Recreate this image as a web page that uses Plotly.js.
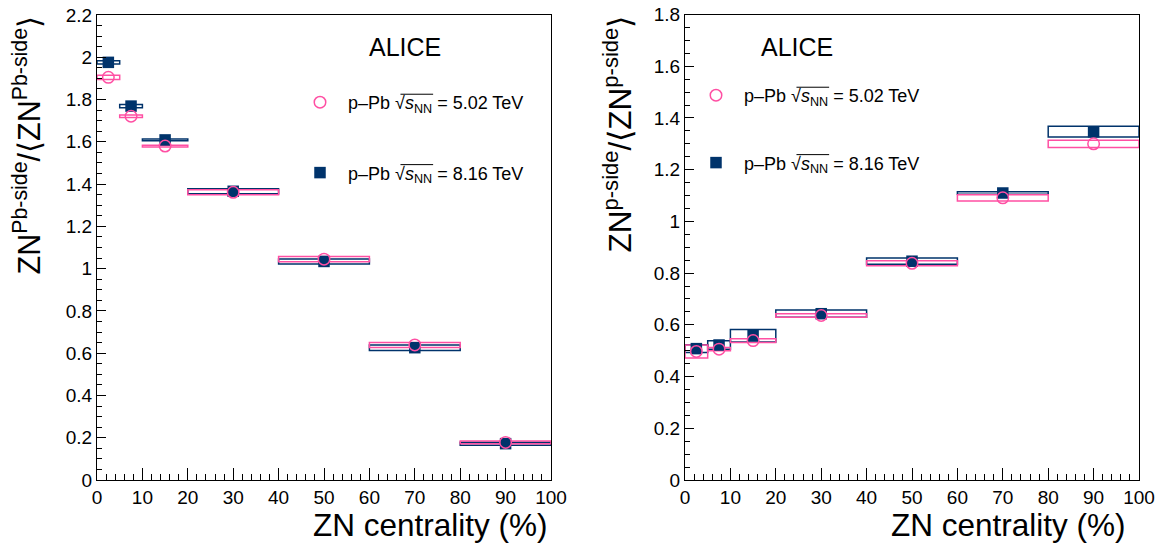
<!DOCTYPE html>
<html>
<head>
<meta charset="utf-8">
<script src="https://cdn.plot.ly/plotly-3.0.1.min.js"></script>
<style>html,body{margin:0;padding:0;background:#fff;}#chart{width:1171px;height:551px;}</style>
</head>
<body>
<div id="chart"></div>
<script>
// ---- data ----
const binLow  = [0, 5, 10, 20, 40, 60, 80];
const binHigh = [5, 10, 20, 40, 60, 80, 100];

// Left panel: ZN Pb-side normalised
const pbSide502    = [1.905, 1.721, 1.580, 1.361, 1.045, 0.639, 0.178];
const pbSide502Sys = [0.010, 0.006, 0.004, 0.012, 0.013, 0.012, 0.006];
const pbSide816    = [1.976, 1.769, 1.609, 1.366, 1.034, 0.626, 0.172];
const pbSide816Sys = [0.008, 0.008, 0.004, 0.012, 0.012, 0.013, 0.007];

// Right panel: ZN p-side normalised
const pSide502    = [0.497, 0.506, 0.539, 0.636, 0.838, 1.091, 1.300];
const pSide502Sys = [0.025, 0.006, 0.007, 0.007, 0.010, 0.012, 0.014];
const pSide816    = [0.508, 0.522, 0.558, 0.643, 0.846, 1.110, 1.347];
const pSide816Sys = [0.015, 0.016, 0.024, 0.014, 0.012, 0.005, 0.021];

const label502 = 'p\u2013Pb \u221A<i>s</i><sub>NN</sub> = 5.02 TeV';
const label816 = 'p\u2013Pb \u221A<i>s</i><sub>NN</sub> = 8.16 TeV';

// ---- styling ----
const PINK = '#ff4fa3';
const NAVY = '#00336b';
const FONT = '"Liberation Sans", Arial, Helvetica, sans-serif';

const centers = binLow.map((l, i) => (l + binHigh[i]) / 2);
const widths  = binLow.map((l, i) => binHigh[i] - l);

function boxTrace(vals, sys, color, xa, ya) {
  return {
    type: 'bar', x: centers, width: widths,
    base: vals.map((v, i) => v - sys[i]),
    y: sys.map(s => 2 * s),
    marker: {color: 'rgba(0,0,0,0)', line: {color: color, width: 1.5}},
    xaxis: xa, yaxis: ya, showlegend: false, hoverinfo: 'skip'
  };
}
function ptTrace(vals, color, symbol, name, xa, ya, legend, group, rank) {
  const open = symbol.indexOf('open') >= 0;
  return {
    type: 'scatter', mode: 'markers', x: centers, y: vals, name: name,
    marker: {symbol: symbol, size: 11.5, color: color, line: {color: color, width: open ? 1.5 : 0}},
    xaxis: xa, yaxis: ya, legend: legend, legendgroup: group, legendrank: rank, showlegend: true
  };
}

const data = [
  boxTrace(pbSide816, pbSide816Sys, NAVY, 'x', 'y'),
  boxTrace(pbSide502, pbSide502Sys, PINK, 'x', 'y'),
  boxTrace(pSide816, pSide816Sys, NAVY, 'x2', 'y2'),
  boxTrace(pSide502, pSide502Sys, PINK, 'x2', 'y2'),
  ptTrace(pbSide816, NAVY, 'square', label816, 'x', 'y', 'legend', 'b', 2),
  ptTrace(pbSide502, PINK, 'circle-open', label502, 'x', 'y', 'legend', 'a', 1),
  ptTrace(pSide816, NAVY, 'square', label816, 'x2', 'y2', 'legend2', 'b2', 2),
  ptTrace(pSide502, PINK, 'circle-open', label502, 'x2', 'y2', 'legend2', 'a2', 1)
];

function xax(domain, anchor) {
  return {
    domain: domain, anchor: anchor, range: [0, 100], dtick: 10, tick0: 0,
    ticks: 'inside', ticklen: 12, tickwidth: 1, tickcolor: '#000',
    minor: {dtick: 2, ticklen: 6, ticks: 'inside', tickcolor: '#000', tickwidth: 1},
    showline: true, linecolor: '#000', linewidth: 1, mirror: true,
    showgrid: false, zeroline: false,
    tickfont: {family: FONT, size: 19, color: '#000'}, fixedrange: true
  };
}
function yax(domain, anchor, max) {
  return {
    domain: domain, anchor: anchor, range: [0, max], dtick: 0.2, tick0: 0,
    ticks: 'inside', ticklen: 9, tickwidth: 1, tickcolor: '#000',
    minor: {dtick: 0.05, ticklen: 5, ticks: 'inside', tickcolor: '#000', tickwidth: 1},
    showline: true, linecolor: '#000', linewidth: 1, mirror: true,
    showgrid: false, zeroline: false,
    tickfont: {family: FONT, size: 19, color: '#000'}, fixedrange: true
  };
}

const W = 1171, H = 551;
const px = v => v / W, py = v => 1 - v / H;

const LEG1 = {x: 292, y: 84, gap: 44};
const LEG2 = {x: 688, y: 77, gap: 41};

const legendCommon = {
  font: {family: FONT, size: 18, color: '#000'},
  bgcolor: 'rgba(0,0,0,0)', borderwidth: 0,
  traceorder: 'grouped', itemwidth: 46,
  xanchor: 'left', yanchor: 'top'
};

// overline of the square-root sign in the legend labels (decoration)
function overline(x0, x1, y) {
  return {type: 'line', xref: 'paper', yref: 'paper', x0: px(x0), x1: px(x1), y0: py(y), y1: py(y),
          line: {color: '#000', width: 1}};
}

const layout = {
  width: W, height: H,
  margin: {l: 0, r: 0, t: 0, b: 0},
  paper_bgcolor: '#fff', plot_bgcolor: '#fff',
  barmode: 'overlay',
  font: {family: FONT, color: '#000'},
  xaxis: xax([px(97), px(551)], 'y'),
  yaxis: yax([py(480), py(15)], 'x', 2.2),
  xaxis2: xax([px(685), px(1139)], 'y2'),
  yaxis2: yax([py(480), py(14.5)], 'x2', 1.8),
  legend: Object.assign({}, legendCommon, {x: px(LEG1.x), y: py(LEG1.y), tracegroupgap: LEG1.gap}),
  legend2: Object.assign({}, legendCommon, {x: px(LEG2.x), y: py(LEG2.y), tracegroupgap: LEG2.gap}),
  shapes: [],
  annotations: [
    {text: 'ALICE', xref: 'paper', yref: 'paper', x: px(405), y: py(47), showarrow: false,
     font: {family: FONT, size: 25, color: '#000'}, xanchor: 'center', yanchor: 'middle'},
    {text: 'ALICE', xref: 'paper', yref: 'paper', x: px(797), y: py(47), showarrow: false,
     font: {family: FONT, size: 25, color: '#000'}, xanchor: 'center', yanchor: 'middle'},
    {text: 'ZN centrality (%)', xref: 'paper', yref: 'paper', x: px(550), y: py(545), showarrow: false,
     font: {family: FONT, size: 31.5, color: '#000'}, xanchor: 'right', yanchor: 'bottom'},
    {text: 'ZN centrality (%)', xref: 'paper', yref: 'paper', x: px(1128), y: py(545), showarrow: false,
     font: {family: FONT, size: 31.5, color: '#000'}, xanchor: 'right', yanchor: 'bottom'},
    {text: 'ZN<sup>Pb-side</sup>/\u27E8ZN<sup>Pb-side</sup>\u27E9', xref: 'paper', yref: 'paper',
     x: px(27), y: py(14), textangle: -90, showarrow: false,
     font: {family: FONT, size: 30.5, color: '#000'}, xanchor: 'center', yanchor: 'top'},
    {text: 'ZN<sup>p-side</sup>/\u27E8ZN<sup>p-side</sup>\u27E9', xref: 'paper', yref: 'paper',
     x: px(617), y: py(14), textangle: -90, showarrow: false,
     font: {family: FONT, size: 31.5, color: '#000'}, xanchor: 'center', yanchor: 'top'}
  ]
};

Plotly.newPlot('chart', data, layout, {displayModeBar: false, staticPlot: true}).then(gd => {
  // measure the sqrt sign in the left legend and draw overlines for both legends
  const root = gd.getBoundingClientRect();
  const svg = gd.querySelector('svg');
  const found = [];
  gd.querySelectorAll('text.legendtext').forEach(t => {
    const txt = t.textContent;
    const idx = txt.indexOf('\u221A');
    const eqIdx = txt.indexOf('=');
    if (idx < 0 || eqIdx < 0) return;
    try {
      const s = t.getExtentOfChar(idx);
      const e = t.getExtentOfChar(eqIdx - 2);
      const ctm = t.getScreenCTM();
      const pt = svg.createSVGPoint();
      pt.x = s.x + s.width * 0.55; pt.y = s.y + 1;
      const a = pt.matrixTransform(ctm);
      pt.x = e.x + e.width; pt.y = s.y + 1;
      const b = pt.matrixTransform(ctm);
      const o = {x0: a.x - root.left, x1: b.x - root.left + 1, y: a.y - root.top};
      if (o.x0 > 0 && o.x0 < W * 0.5) found.push(o);
    } catch (err) {}
  });
  found.sort((p, q) => p.y - q.y);
  const shapes = [];
  const dx = LEG2.x - LEG1.x;
  found.forEach((o, i) => {
    shapes.push(overline(o.x0, o.x1, o.y));
    const dy = (LEG2.y - LEG1.y) + i * (LEG2.gap - LEG1.gap);
    shapes.push(overline(o.x0 + dx, o.x1 + dx, o.y + dy));
  });
  if (shapes.length) Plotly.relayout(gd, {shapes: shapes});
});
</script>
</body>
</html>
